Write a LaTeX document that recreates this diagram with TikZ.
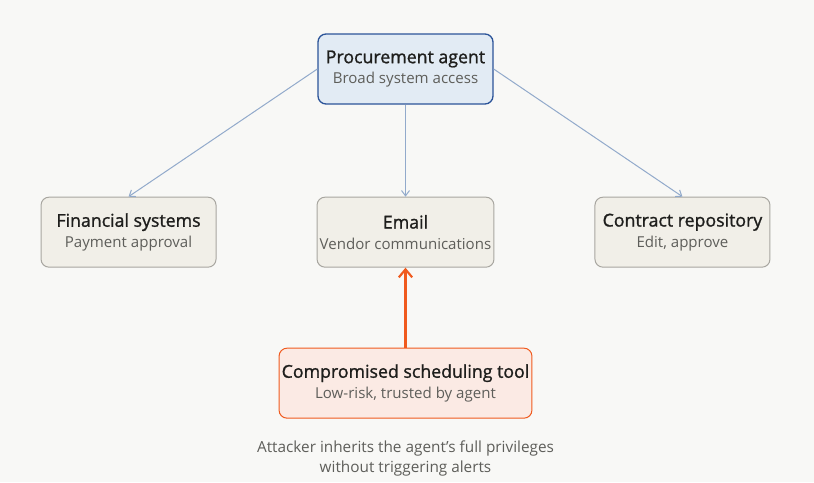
\documentclass[tikz,border=0pt]{standalone}
\usepackage{fontspec}
\setmainfont{Open Sans}
\newfontfamily\titlefont[FakeBold=1.2]{Open Sans}
\usetikzlibrary{positioning, arrows.meta}
\definecolor{pagebg}{HTML}{F8F8F6}
\definecolor{agentfill}{HTML}{E2EBF4}
\definecolor{agentline}{HTML}{2C5499}
\definecolor{sysfill}{HTML}{F1EFE8}
\definecolor{sysline}{HTML}{A8A6A0}
\definecolor{toolfill}{HTML}{FBEAE4}
\definecolor{toolline}{HTML}{F05A1E}
\definecolor{linkblue}{HTML}{92AACB}
\definecolor{subgrey}{HTML}{5E5E5A}
\definecolor{titleink}{HTML}{1E1E1C}

\tikzset{
  box/.style={rounded corners=6pt, minimum width=131.25pt, minimum height=52.5pt,
    align=center, inner sep=2pt, line width=0.75pt},
  agentbox/.style={box, fill=agentfill, draw=agentline, line width=1pt},
  sysbox/.style={box, fill=sysfill, draw=sysline},
  toolbox/.style={box, fill=toolfill, draw=toolline, minimum width=187.5pt},
  access/.style={draw=linkblue, line width=0.75pt, -{Straight Barb[length=4pt, width=6pt]}},
  attack/.style={draw=toolline, line width=1.6pt, -{Straight Barb[length=6pt, width=10pt]}},
}
\newcommand{\boxtext}[2]{{\titlefont\fontsize{13.3pt}{16pt}\selectfont\color{titleink}#1}\\[3.5pt]{\fontsize{11.3pt}{13pt}\selectfont\color{subgrey}#2}}

\begin{document}
\begin{tikzpicture}[x=0.75pt, y=-0.75pt]
    \fill[pagebg] (0,0) rectangle (814,482);
    \useasboundingbox (0,0) rectangle (814,482);

    % agent on top
    \node[agentbox] (agent) at (405.5,69) {\boxtext{Procurement agent}{Broad system access}};

    % systems it can reach
    \node[sysbox, below=69pt of agent] (email) {\boxtext{Email}{Vendor communications}};
    \node[sysbox, left=75pt of email] (finance) {\boxtext{Financial systems}{Payment approval}};
    \node[sysbox, right=75pt of email] (contracts) {\boxtext{Contract repository}{Edit, approve}};

    % the weak link
    \node[toolbox, below=60pt of email] (tool) {\boxtext{Compromised scheduling tool}{Low-risk, trusted by agent}};
    \node[below=13pt of tool, align=center, font=\fontsize{11.5pt}{15pt}\selectfont, text=subgrey] (note)
        {Attacker inherits the agent's full privileges\\without triggering alerts};

    \draw[access] (agent.west) -- (finance.north);
    \draw[access] (agent.south) -- (email.north);
    \draw[access] (agent.east) -- (contracts.north);
    \draw[attack] (tool.north) -- (email.south);
\end{tikzpicture}
\end{document}
